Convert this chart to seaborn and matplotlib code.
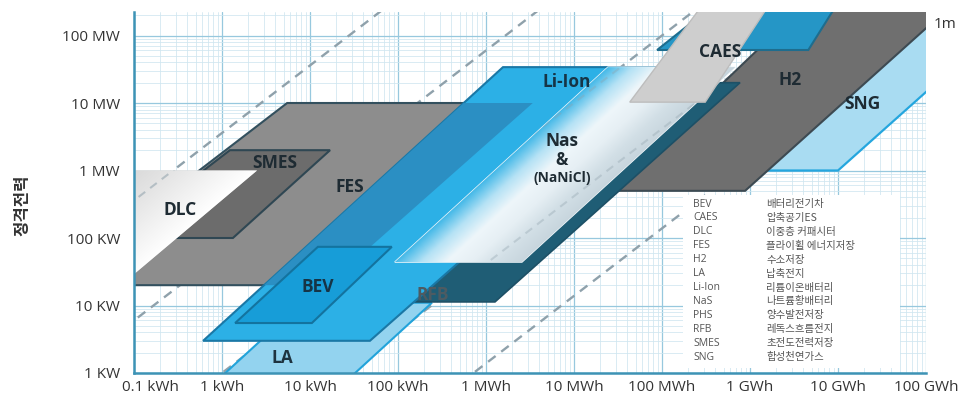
import numpy as np
import pandas as pd
import matplotlib
matplotlib.use("Agg")
import matplotlib.pyplot as plt
import matplotlib.transforms as mtransforms
import seaborn as sns
from matplotlib.patches import Polygon, Rectangle
from matplotlib.colors import LinearSegmentedColormap
from matplotlib.ticker import FixedLocator, LogLocator, NullFormatter

# ---------------- data ----------------
energy_ticks = [0.1, 1, 10, 100, 1e3, 1e4, 1e5, 1e6, 1e7, 1e8]
energy_labels = ["0.1 kWh", "1 kWh", "10 kWh", "100 kWh", "1 MWh", "10 MWh",
                 "100 MWh", "1 GWh", "10 GWh", "100 GWh"]
power_ticks = [1, 10, 100, 1e3, 1e4, 1e5]
power_labels = ["1 KW", "10 KW", "100 KW", "1 MW", "10 MW", "100 MW"]

# discharge-time reference lines (hours): 1 s, 1 min, 1 h, 1 d, 1 month
discharge_hours = [1 / 3600, 1 / 60, 1, 24, 720]

# technology regions: polygon vertices, energy in kWh and power in kW
sng_E = [1.3e6, 1.0e7, 1.5e9, 2.0e8]
sng_P = [1000, 1000, 3.4e5, 3.4e5]
h2_E = [2.6e4, 8.8e5, 2.3e8, 4.8e6]
h2_P = [500, 500, 3.4e5, 3.4e5]
fes_E = [5.5, 3400, 15.6, 0.011]
fes_P = [1e4, 1e4, 20, 20]
smes_E = [1.23, 16.9, 1.33, 0.062]
smes_P = [2000, 2000, 100, 100]
dlc_E = [0.003, 2.5, 0.071, 0.003]
dlc_P = [1000, 1000, 20, 20]
la_E = [0.77, 23, 243, 8.1]
la_P = [0.66, 0.66, 11, 11]
rfb_E = [137, 1265, 7.7e5, 8.3e4]
rfb_P = [11.3, 11.3, 2.0e4, 2.0e4]
liion_E = [1560, 1.6e5, 48, 0.61]
liion_P = [3.4e4, 3.4e4, 3.0, 3.0]
bev_E = [12.3, 85, 10.5, 1.41]
bev_P = [74, 74, 5.5, 5.5]
nas_E = [2.43e4, 6.8e5, 2560, 92]
nas_P = [3.4e4, 3.4e4, 44, 44]
phs_E = [8.8e4, 4.6e6, 1.05e7, 4.6e5]
phs_P = [6.1e4, 6.1e4, 3.4e5, 3.4e5]
caes_E = [4.3e4, 3.1e5, 1.8e6, 3.2e5]
caes_P = [1.03e4, 1.03e4, 3.4e5, 3.4e5]

legend_abbr = ["BEV", "CAES", "DLC", "FES", "H2", "LA", "Li-Ion", "NaS",
               "PHS", "RFB", "SMES", "SNG"]
legend_names = ["배터리전기차", "압축공기ES", "이중층 커패시터", "플라이휠 에너지저장",
                "수소저장", "납축전지", "리튬이온배터리", "나트륨황배터리",
                "양수발전저장", "레독스흐름전지", "초전도전력저장", "합성천연가스"]

# ---------------- style ----------------
sns.set_theme(style="white")
plt.rcParams["font.family"] = ["Open Sans", "Noto Sans CJK KR", "DejaVu Sans"]

W, H = 968, 401
fig = plt.figure(figsize=(W / 100, H / 100), dpi=100)
fig.patch.set_facecolor("white")
ax = fig.add_axes([134 / W, (H - 373) / H, (926 - 134) / W, (373 - 12) / H])
ax.set_xscale("log")
ax.set_yscale("log")
XMIN, XMAX = 0.1, 1e8
YMIN, YMAX = 1, 2.23e5
ax.set_xlim(XMIN, XMAX)
ax.set_ylim(YMIN, YMAX)
ax.set_autoscale_on(False)
ax.set_facecolor("white")

# grid and ticks
ax.xaxis.set_major_locator(FixedLocator(energy_ticks))
ax.yaxis.set_major_locator(FixedLocator(power_ticks))
ax.xaxis.set_minor_locator(LogLocator(base=10, subs=np.arange(2, 10), numticks=100))
ax.yaxis.set_minor_locator(LogLocator(base=10, subs=np.arange(2, 10), numticks=100))
ax.xaxis.set_minor_formatter(NullFormatter())
ax.yaxis.set_minor_formatter(NullFormatter())
ax.set_xticklabels(energy_labels)
ax.set_yticklabels(power_labels)
ax.grid(which="major", color="#97c8de", lw=0.9, zorder=0)
ax.grid(which="minor", color="#cfe6f0", lw=0.55, zorder=0)
ax.set_axisbelow(True)

for s in ["top", "right"]:
    ax.spines[s].set_visible(False)
for s in ["left", "bottom"]:
    ax.spines[s].set_color("#3d93b5")
    ax.spines[s].set_linewidth(1.8)
    ax.spines[s].set_zorder(30)
ax.tick_params(axis="both", which="major", length=4, width=1.2, color="#3d93b5",
               direction="inout", labelsize=11, labelcolor="#333333")
ax.tick_params(axis="y", which="major", pad=8)
ax.tick_params(axis="x", which="major", pad=3)
ax.tick_params(which="minor", length=0)

# first x label sits slightly right of its tick, as in the original
first = ax.get_xticklabels()[0]
first.set_transform(first.get_transform() +
                    mtransforms.ScaledTranslation(16 / 100, 0, fig.dpi_scale_trans))

# discharge time lines
rows = []
for t in discharge_hours:
    for e in (XMIN / 10, XMAX * 10):
        rows.append({"t": t, "E": e, "P": e / t})
lines_df = pd.DataFrame(rows)
sns.lineplot(data=lines_df, x="E", y="P", units="t", estimator=None, sort=False,
             color="#8fa1ab", lw=1.7, linestyle=(0, (4, 3)), ax=ax, legend=False,
             zorder=2)
ax.set_xlabel("")
ax.set_ylabel("")


def add_poly(E, P, face, edge="none", lw=1.5, z=3):
    p = Polygon(np.column_stack([E, P]), closed=True, facecolor=face,
                edgecolor=edge, lw=lw, zorder=z, joinstyle="miter")
    ax.add_patch(p)
    return p


def gradient_fill(patch, stops, normal, z, n=220):
    verts = patch.get_transform().transform(patch.get_path().vertices)
    va = ax.transAxes.inverted().transform(verts)
    x0, y0 = np.clip(va.min(0), 0, 1)
    x1, y1 = np.clip(va.max(0), 0, 1)
    U, V = np.meshgrid(np.linspace(x0, x1, n), np.linspace(y0, y1, n))
    disp = ax.transAxes.transform(np.column_stack([U.ravel(), V.ravel()]))
    nv = np.asarray(normal, float)
    s = disp @ nv
    sv = verts @ nv
    s = (s - sv.min()) / (sv.max() - sv.min())
    cmap = LinearSegmentedColormap.from_list("g", stops)
    img = cmap(np.clip(s, 0, 1)).reshape(n, n, 4)
    im = ax.imshow(img, extent=(x0, x1, y0, y1), transform=ax.transAxes,
                   origin="lower", aspect="auto", interpolation="bilinear", zorder=z)
    im.set_clip_path(patch)
    return im


def faint_lines(clip_patch, z, alpha):
    n_before = len(ax.lines)
    sns.lineplot(data=lines_df, x="E", y="P", units="t", estimator=None, sort=False,
                 color="#8fa1ab", lw=1.5, linestyle=(0, (4, 3)), ax=ax, legend=False)
    for ln in ax.lines[n_before:]:
        ln.set_clip_path(clip_patch)
        ln.set_zorder(z)
        ln.set_alpha(alpha)


sng = add_poly(sng_E, sng_P, "#a9dcf2", "#25a6de", 1.6, 3)
h2 = add_poly(h2_E, h2_P, "#6f6f6f", "#3d4a52", 1.5, 4)
fes = add_poly(fes_E, fes_P, "#8d8d8d", "#33505e", 1.5, 5)
smes = add_poly(smes_E, smes_P, "#6c6c6c", "#2f4753", 1.5, 6)
dlc = add_poly(dlc_E, dlc_P, "#d0d0d0", "none", 0, 7)
gradient_fill(dlc, ["#c2c2c2", "#cdcdcd", "#e4e4e4", "#ffffff"], (1, -1.16), 7.1)
faint_lines(dlc, 7.2, 0.55)
la = add_poly(la_E, la_P, "#93d3ef", "#22a3da", 1.5, 8)
rfb = add_poly(rfb_E, rfb_P, "#1f5d75", "#1d5066", 1.2, 9)
liion = add_poly(liion_E, liion_P, "#2cb0e6", "#1a78a6", 1.5, 10)
liion_dark = add_poly(liion_E, liion_P, "#2b8fc3", "none", 0, 10.5)
liion_dark.set_clip_path(fes)
bev = add_poly(bev_E, bev_P, "#179dd8", "#13739f", 1.5, 11)
nas = add_poly(nas_E, nas_P, "#e8f2f7", "#f2f7fa", 1.0, 12)
gradient_fill(nas, ["#45b9e8", "#b5e2f5", "#eef6fa", "#e6eff4", "#d2dfe6", "#c7d5dd"],
              (1, -1.09), 12.1)
faint_lines(nas, 12.3, 0.35)
phs = add_poly(phs_E, phs_P, "#2596c6", "#1e6d8e", 1.5, 13)
caes = add_poly(caes_E, caes_P, "#cecece", "#bdbdbd", 1.0, 14)

ax.set_xlabel("")
ax.set_ylabel("")
ax.set_xlim(XMIN, XMAX)
ax.set_ylim(YMIN, YMAX)

# region labels (layout positions)
lab_kw = dict(ha="center", va="center", fontweight="bold", zorder=25,
              family=["Open Sans", "DejaVu Sans"])
label_layout = [
    ("DLC", 0.33, 260, 12.5, "#1e2b33"),
    ("SMES", 4.0, 1290, 12.5, "#1e2b33"),
    ("FES", 28.5, 570, 12.5, "#1e2b33"),
    ("BEV", 12.3, 18.8, 12.5, "#163446"),
    ("LA", 4.9, 1.67, 12.5, "#1e3340"),
    ("RFB", 250, 14.3, 12.5, "#4d5b62"),
    ("Li-Ion", 8300, 2.05e4, 12.5, "#163446"),
    ("Nas", 7300, 2740, 12.5, "#1e2b33"),
    ("&", 7300, 1430, 12, "#1e2b33"),
    ("(NaNiCl)", 7300, 774, 10, "#1e2b33"),
    ("CAES", 4.56e5, 5.7e4, 12.5, "#1e2b33"),
    ("H2", 2.85e6, 2.19e4, 12.5, "#1e2b33"),
    ("SNG", 1.87e7, 9660, 12.5, "#1e2b33"),
]
for txt, ex, py, fs, col in label_layout:
    ax.text(ex, py, txt, fontsize=fs, color=col, **lab_kw)

# abbreviation legend box
ax.add_patch(Rectangle((0.693, 0.014), 0.274, 0.479, transform=ax.transAxes,
                       facecolor="white", edgecolor="none", zorder=20))
row_y = np.linspace(0.468, 0.044, len(legend_abbr))
for yv, a, k in zip(row_y, legend_abbr, legend_names):
    ax.text(0.706, yv, a, transform=ax.transAxes, fontsize=7.5, color="#555555",
            va="center", ha="left", zorder=21)
    ax.text(0.798, yv, k, transform=ax.transAxes, fontsize=7.5, color="#555555",
            va="center", ha="left", zorder=21,
            family=["Noto Sans CJK KR", "DejaVu Sans"])

# outside texts
fig.text(945 / W, 1 - 25 / H, "1m", fontsize=11, color="#333333",
         ha="center", va="center")
fig.text(22 / W, 1 - 205 / H, "정격전력", rotation=90, fontsize=12,
         fontweight="bold", color="#333333", ha="center", va="center",
         family=["Noto Sans CJK KR", "DejaVu Sans"])

fig.savefig("out.png", dpi=100, facecolor="white")
